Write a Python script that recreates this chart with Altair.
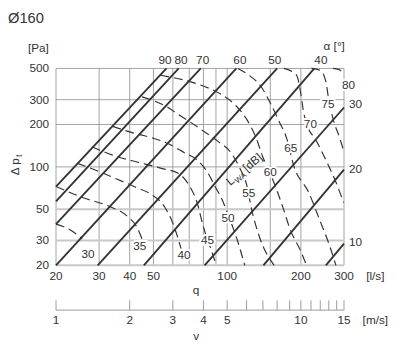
import altair as alt
import pandas as pd

FONT = "Liberation Sans"
TXT = "#333333"
LINE = "#333333"
W, H = 294, 201

# ---------------- data ----------------
title_text = "Ø160"

# damper blade angle lines (alpha, degrees): start and end points (q [l/s], dp [Pa])
alpha_names = [90, 80, 70, 60, 50, 40, 30, 20, 10]
alpha_q_start = [20, 20, 20, 20, 29.6, 45.7, 80.9, 140.6, 253]
alpha_dp_start = [72.4, 56.9, 39.2, 20, 20, 20, 20, 20, 20]
alpha_q_end = [56.5, 63.4, 78, 109, 160, 227, 300, 300, 300]
alpha_dp_end = [500, 500, 500, 500, 500, 500, 264, 95.6, 28.5]

# sound power level curves L_WA [dB]
lwa30_q = [20, 22.9, 25.6]
lwa30_dp = [39.2, 35.6, 30.8]
lwa35_q = [20, 25.8, 33.1, 39.1, 42.8, 44.9]
lwa35_dp = [72.6, 60.4, 52.3, 44.6, 37.3, 30.8]
lwa40_q = [24.4, 27.5, 34.0, 42.1, 49.2, 55.4, 60.2, 63.1, 64.8]
lwa40_dp = [106, 98.4, 84.5, 72, 63.4, 52.3, 39.2, 30.8, 26.3]
lwa45_q = [28.0, 36.2, 43.6, 53.9, 63.1, 69.8, 75.8, 79.4, 81.6, 86.3, 90.3]
lwa45_dp = [138.9, 117, 107.5, 97.6, 90.1, 74.3, 54, 39.2, 33.4, 25.4, 20]
lwa50_q = [34.0, 40.9, 49.2, 57.5, 66.6, 75.8, 83.1, 89.5, 95.4, 100, 109.6, 118]
lwa50_dp = [194, 175, 161, 146, 126.7, 111, 91.6, 72, 58.5, 47.5, 30.8, 20]
lwa55_q = [44.9, 56.5, 63.1, 69.8, 78.0, 91.2, 103.7, 112.7, 120.2, 125.9, 135.5, 155.5]
lwa55_dp = [314, 268, 236, 211, 185, 152.9, 126.1, 97.6, 74.3, 49.8, 31.8, 20]
lwa60_q = [53.4, 75.8, 93.7, 107.6, 120.2, 131.8, 139.2, 152.7, 167.4, 181.9, 199.4, 210.8]
lwa60_dp = [447, 387, 330, 276, 217.4, 158, 120, 83.2, 54, 35, 25.4, 20]
lwa65_q = [110.6, 121.3, 137.9, 151.3, 162.8, 175.3, 187, 214.7, 239.8, 262.9, 277.9]
lwa65_dp = [500, 454, 369, 276, 211, 158, 102, 66.5, 41.1, 27.1, 20]
lwa70_q = [170.5, 192.2, 199.4, 205, 212.7, 229, 253.4, 277.9, 299]
lwa70_dp = [500, 447, 340, 247, 194, 158, 111, 78.0, 55.7]
lwa75_q = [220.8, 239.8, 253.4, 258.1, 270.3, 288.3, 299]
lwa75_dp = [500, 484, 400, 324, 221, 160, 130]
lwa80_q = [270.3, 285.6, 299]
lwa80_dp = [500, 492, 454]

lwa_levels = [30, 35, 40, 45, 50, 55, 60, 65, 70, 75, 80]
lwa_label_q = [27.0, 44.0, 66.6, 83.1, 100.9, 122.4, 150, 181.9, 218.7, 258.1, 313]
lwa_label_dp = [23.9, 27.5, 23.5, 30.3, 43.1, 65.4, 91.6, 137, 200.7, 281, 381]

alpha_top_labels = ["90", "80", "70", "60", "50", "40"]
alpha_top_q = [55.7, 64.8, 79.4, 112.7, 156.5, 241.4]
alpha_right_labels = ["30", "20", "10"]
alpha_right_dp = [281, 96, 29.2]

q_grid = [20, 30, 40, 50, 60, 70, 80, 90, 100, 150, 200, 300]
q_labels = [20, 30, 40, 50, 100, 200, 300]
dp_grid = [20, 30, 50, 100, 200, 300, 500]
dp_grid_light = [20, 30, 50]
dp_labels = [20, 30, 50, 100, 200, 300, 500]
v_ticks = list(range(1, 16))
v_labels = [1, 2, 3, 4, 5, 10, 15]

# ---------------- tables ----------------
alpha_rows = []
for a, q0, p0, q1, p1 in zip(alpha_names, alpha_q_start, alpha_dp_start, alpha_q_end, alpha_dp_end):
    alpha_rows.append({"alpha": a, "q": q0, "dp": p0, "o": 0})
    alpha_rows.append({"alpha": a, "q": q1, "dp": p1, "o": 1})
alpha_df = pd.DataFrame(alpha_rows)

curve_arrays = [
    (30, lwa30_q, lwa30_dp), (35, lwa35_q, lwa35_dp), (40, lwa40_q, lwa40_dp),
    (45, lwa45_q, lwa45_dp), (50, lwa50_q, lwa50_dp), (55, lwa55_q, lwa55_dp),
    (60, lwa60_q, lwa60_dp), (65, lwa65_q, lwa65_dp), (70, lwa70_q, lwa70_dp),
    (75, lwa75_q, lwa75_dp), (80, lwa80_q, lwa80_dp),
]
lwa_rows = []
for lvl, qs, ps in curve_arrays:
    for i, (qq, pp) in enumerate(zip(qs, ps)):
        lwa_rows.append({"lwa": lvl, "q": qq, "dp": pp, "o": i})
lwa_df = pd.DataFrame(lwa_rows)

lwa_lab_df = pd.DataFrame({"q": lwa_label_q, "dp": lwa_label_dp,
                           "t": [str(v) for v in lwa_levels]})
top_lab_df = pd.DataFrame({"q": alpha_top_q, "t": alpha_top_labels})
right_lab_df = pd.DataFrame({"dp": alpha_right_dp, "t": alpha_right_labels})
qgrid_df = pd.DataFrame({"q": q_grid})
dpgrid_df = pd.DataFrame({"dp": dp_grid, "light": [d in dp_grid_light for d in dp_grid]})
qlab_df = pd.DataFrame({"q": q_labels, "t": [str(v) for v in q_labels]})
dplab_df = pd.DataFrame({"dp": dp_labels, "t": [str(v) for v in dp_labels]})
v_tick_df = pd.DataFrame({"v": v_ticks})
v_lab_df = pd.DataFrame({"v": v_labels, "t": [str(v) for v in v_labels]})
one = pd.DataFrame({"k": [0]})

# ---------------- scales ----------------
xs = alt.Scale(type="log", domain=[20, 300], nice=False)
ys = alt.Scale(type="log", domain=[20, 500], nice=False)
X = lambda: alt.X("q:Q", scale=xs, axis=None)
Y = lambda: alt.Y("dp:Q", scale=ys, axis=None)

vgrid = alt.Chart(qgrid_df).mark_rule(color="#8a8a8a", strokeWidth=0.8).encode(
    x=X(), y=alt.value(0), y2=alt.value(H))
hgrid = alt.Chart(dpgrid_df).mark_rule().encode(
    y=Y(), x=alt.value(0), x2=alt.value(W),
    color=alt.condition("datum.light", alt.value("#c8c8c8"), alt.value("#8a8a8a")),
    strokeWidth=alt.condition("datum.light", alt.value(2), alt.value(0.8)))
qlabs = alt.Chart(qlab_df).mark_text(font=FONT, fontSize=12, color=TXT, baseline="middle").encode(
    x=X(), y=alt.value(H + 11), text="t:N")
dplabs = alt.Chart(dplab_df).mark_text(font=FONT, fontSize=12, color=TXT, baseline="middle",
                                       align="right").encode(
    x=alt.value(-7), y=Y(), text="t:N")

alpha_lines = alt.Chart(alpha_df).mark_line(color=LINE, strokeWidth=1.9).encode(
    x=X(), y=Y(), detail="alpha:N", order="o:Q")

lwa_lines = alt.Chart(lwa_df).mark_line(color=LINE, strokeWidth=1.2, strokeDash=[9, 5],
                                         interpolate="monotone").encode(
    x=X(), y=Y(), detail="lwa:N", order="o:Q")

halo = alt.Chart(lwa_lab_df).mark_text(font=FONT, fontSize=12, fill="white", stroke="white",
                                       strokeWidth=4, baseline="middle").encode(
    x=X(), y=Y(), text="t:N")
lwa_labels = alt.Chart(lwa_lab_df).mark_text(font=FONT, fontSize=12, color=TXT,
                                             baseline="middle").encode(
    x=X(), y=Y(), text="t:N")

top_labels = alt.Chart(top_lab_df).mark_text(font=FONT, fontSize=12, color=TXT,
                                             baseline="middle").encode(
    x=X(), y=alt.value(-9), text="t:N")
right_labels = alt.Chart(right_lab_df).mark_text(font=FONT, fontSize=12, color=TXT,
                                                 baseline="middle", align="left").encode(
    x=alt.value(W + 5), y=Y(), text="t:N")


def annot(text, x, y, size=12, align="center", baseline="middle", angle=0, dx=0, dy=0):
    kw = dict(text=text, font=FONT, fontSize=size, color=TXT, align=align,
              baseline=baseline, dx=dx, dy=dy)
    if angle:
        kw["angle"] = angle
    return alt.Chart(one).mark_text(**kw).encode(x=alt.value(x), y=alt.value(y))


notes = [
    annot(title_text, -49, -46, size=15, align="left", baseline="alphabetic"),
    annot("[Pa]", -18, -21),
    annot("α [°]", 284, -23),
    annot("[l/s]", 326, 212),
    annot("q", 143, 226),
    annot("Δ p", -38, 109, align="left", baseline="alphabetic", angle=270),
    annot("t", -38, 109, size=9, align="left", baseline="alphabetic", angle=270, dx=18.5, dy=3),
    annot("L", 178, 120, size=12, align="left", baseline="alphabetic", angle=320),
    annot("WA", 178, 120, size=8, align="left", baseline="alphabetic", angle=320, dx=7, dy=3),
    annot("[dB]", 178, 120, size=12, align="left", baseline="alphabetic", angle=320, dx=22),
    annot("v", 143, 273),
    annot("[m/s]", 326, 257),
]

main = alt.layer(vgrid, hgrid, qlabs, dplabs, alpha_lines, lwa_lines, halo, lwa_labels,
                 top_labels, right_labels, *notes)

vs = alt.Scale(type="log", domain=[1, 15], nice=False)
v_base = alt.Chart(one).mark_rule(color="#9a9a9a", strokeWidth=1).encode(
    x=alt.value(0), x2=alt.value(W), y=alt.value(246.7))
v_ticks_l = alt.Chart(v_tick_df).mark_rule(color="#9a9a9a", strokeWidth=1).encode(
    x=alt.X("v:Q", scale=vs, axis=None), y=alt.value(236.7), y2=alt.value(246.7))
v_labs = alt.Chart(v_lab_df).mark_text(font=FONT, fontSize=12, color=TXT,
                                       baseline="middle").encode(
    x=alt.X("v:Q", scale=vs, axis=None), y=alt.value(257.3), text="t:N")
vlayer = alt.layer(v_base, v_ticks_l, v_labs)

chart = alt.layer(main, vlayer).resolve_scale(x="independent").properties(
    width=W, height=H,
    padding={"left": 49, "top": 58, "right": 49, "bottom": 95},
    autosize=alt.AutoSizeParams(type="none"),
    background="white",
).configure_view(stroke=None)

chart.save("out.html", embed_options={"renderer": "svg", "actions": False})
